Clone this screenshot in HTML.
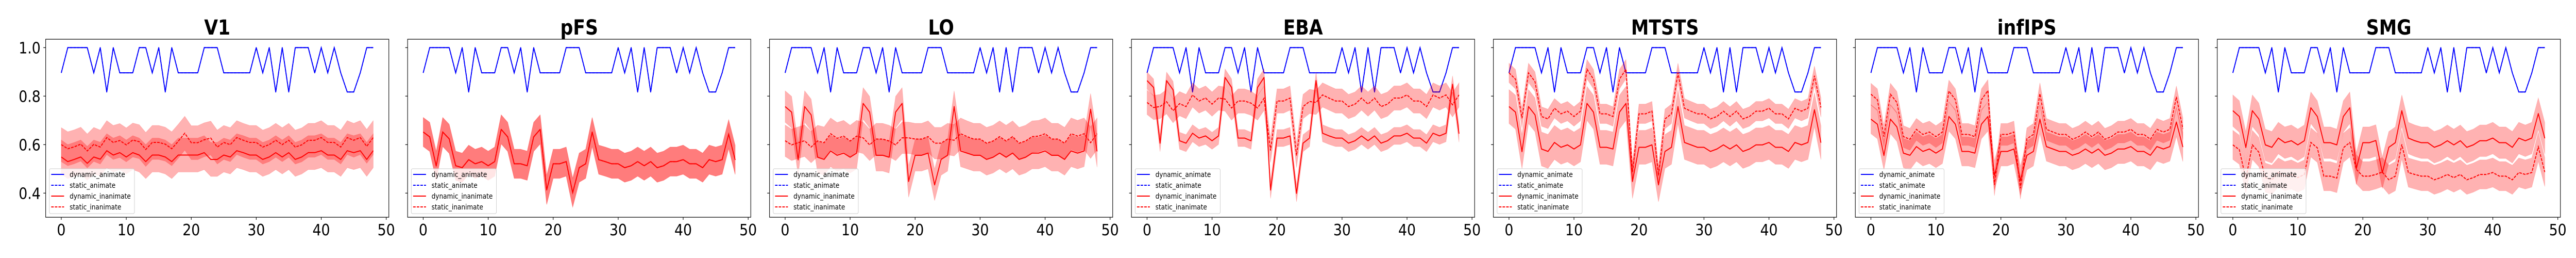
<!DOCTYPE html>
<html><head><meta charset="utf-8">
<style>
html,body{margin:0;padding:0;background:#fff;overflow:hidden;width:100%;height:100%;}
svg{display:block;position:absolute;left:0;top:0;width:100vw;height:100vh;font-family:"DejaVu Sans","Liberation Sans",sans-serif;}
</style></head>
<body>
<svg id="chart" viewBox="0 0 5600 500" preserveAspectRatio="none" xmlns="http://www.w3.org/2000/svg"><defs id="defs"></defs></svg>
<script>
const regions = ["V1","pFS","LO","EBA","MTSTS","infIPS","SMG"];
const xTicks = [0,10,20,30,40,50];
const yTicks = [0.4,0.6,0.8,1.0];
const yTickLabels = ["0.4","0.6","0.8","1.0"];
const seriesNames = ["dynamic_animate","static_animate","dynamic_inanimate","static_inanimate"];
const blueVals = [0.896,1,1,1,1,0.896,1,0.817,1,0.896,0.896,0.896,1,1,0.896,1,0.817,1,0.896,0.896,0.896,0.896,1,1,1,0.896,0.896,0.896,0.896,0.896,1,0.896,1,0.817,1,0.817,1,1,1,0.896,1,0.896,1,0.896,0.817,0.817,0.896,1,1];
const dynV1 = [0.549,0.53,0.539,0.549,0.523,0.549,0.54,0.575,0.557,0.567,0.549,0.567,0.557,0.53,0.557,0.557,0.549,0.53,0.557,0.557,0.557,0.557,0.567,0.539,0.539,0.557,0.549,0.575,0.567,0.557,0.557,0.539,0.549,0.567,0.549,0.567,0.539,0.549,0.567,0.567,0.575,0.557,0.557,0.539,0.575,0.567,0.575,0.539,0.575];
const statV1 = [0.600,0.583,0.591,0.602,0.574,0.601,0.590,0.629,0.609,0.617,0.599,0.619,0.612,0.580,0.609,0.609,0.602,0.583,0.614,0.647,0.608,0.608,0.620,0.627,0.590,0.609,0.600,0.629,0.618,0.609,0.609,0.590,0.600,0.618,0.600,0.618,0.590,0.599,0.618,0.618,0.629,0.609,0.609,0.590,0.629,0.618,0.629,0.593,0.629];
const dynPFS = [0.652,0.632,0.512,0.652,0.624,0.513,0.505,0.538,0.521,0.530,0.513,0.530,0.663,0.632,0.521,0.521,0.513,0.632,0.663,0.413,0.521,0.521,0.530,0.402,0.505,0.521,0.652,0.538,0.530,0.521,0.521,0.505,0.513,0.530,0.513,0.530,0.505,0.513,0.530,0.530,0.538,0.521,0.521,0.505,0.538,0.530,0.538,0.643,0.537];
const statPFS = [0.652,0.632,0.512,0.652,0.624,0.513,0.505,0.538,0.521,0.530,0.513,0.530,0.663,0.632,0.521,0.521,0.513,0.632,0.663,0.413,0.521,0.521,0.530,0.402,0.505,0.521,0.652,0.538,0.530,0.521,0.521,0.505,0.513,0.530,0.513,0.530,0.505,0.513,0.530,0.530,0.538,0.521,0.521,0.505,0.538,0.530,0.538,0.643,0.537];
const dynLO = [0.757,0.734,0.537,0.757,0.723,0.548,0.539,0.574,0.556,0.565,0.548,0.565,0.770,0.734,0.556,0.556,0.548,0.734,0.770,0.448,0.556,0.556,0.565,0.434,0.539,0.556,0.757,0.574,0.565,0.556,0.556,0.539,0.548,0.565,0.548,0.565,0.539,0.548,0.565,0.565,0.574,0.556,0.556,0.539,0.574,0.565,0.574,0.746,0.572];
const statLO = [0.616,0.599,0.608,0.616,0.590,0.615,0.608,0.645,0.626,0.635,0.615,0.635,0.628,0.599,0.623,0.623,0.615,0.599,0.628,0.628,0.623,0.623,0.633,0.606,0.606,0.623,0.618,0.645,0.633,0.623,0.623,0.606,0.615,0.633,0.615,0.633,0.606,0.615,0.633,0.635,0.645,0.623,0.623,0.606,0.645,0.635,0.645,0.608,0.645];
const dynEBA = [0.864,0.836,0.606,0.864,0.826,0.616,0.606,0.647,0.627,0.636,0.616,0.636,0.877,0.836,0.627,0.627,0.616,0.836,0.877,0.413,0.627,0.627,0.636,0.399,0.606,0.627,0.864,0.647,0.636,0.627,0.627,0.606,0.616,0.636,0.616,0.636,0.606,0.616,0.636,0.636,0.647,0.627,0.627,0.606,0.647,0.636,0.647,0.849,0.645];
const statEBA = [0.774,0.753,0.757,0.777,0.740,0.769,0.757,0.805,0.780,0.792,0.767,0.792,0.788,0.751,0.780,0.780,0.771,0.751,0.791,0.576,0.780,0.780,0.792,0.555,0.757,0.778,0.774,0.805,0.792,0.780,0.780,0.757,0.767,0.792,0.767,0.792,0.757,0.767,0.792,0.792,0.805,0.780,0.780,0.757,0.805,0.792,0.805,0.764,0.805];
const dynMTSTS = [0.757,0.734,0.571,0.757,0.723,0.582,0.572,0.609,0.589,0.599,0.582,0.599,0.770,0.734,0.589,0.589,0.582,0.734,0.770,0.448,0.589,0.589,0.599,0.434,0.572,0.589,0.757,0.609,0.599,0.589,0.589,0.572,0.582,0.599,0.582,0.599,0.572,0.582,0.599,0.599,0.609,0.589,0.589,0.572,0.609,0.599,0.609,0.744,0.608];
const statMTSTS = [0.896,0.870,0.709,0.896,0.860,0.716,0.706,0.750,0.727,0.738,0.716,0.738,0.911,0.870,0.727,0.727,0.716,0.870,0.911,0.487,0.727,0.727,0.738,0.473,0.706,0.727,0.896,0.750,0.738,0.727,0.727,0.706,0.716,0.738,0.716,0.738,0.706,0.716,0.738,0.738,0.750,0.727,0.727,0.706,0.750,0.738,0.750,0.884,0.753];
const dynInfIPS = [0.705,0.684,0.555,0.705,0.673,0.565,0.556,0.592,0.572,0.582,0.565,0.582,0.716,0.684,0.572,0.572,0.565,0.684,0.716,0.473,0.572,0.572,0.582,0.452,0.556,0.572,0.705,0.592,0.582,0.572,0.572,0.556,0.565,0.582,0.565,0.582,0.556,0.565,0.582,0.582,0.592,0.572,0.572,0.556,0.592,0.582,0.592,0.693,0.590];
const statInfIPS = [0.808,0.785,0.633,0.808,0.774,0.633,0.622,0.663,0.642,0.652,0.633,0.652,0.821,0.785,0.642,0.642,0.633,0.785,0.823,0.434,0.642,0.642,0.652,0.420,0.624,0.642,0.810,0.663,0.652,0.642,0.642,0.622,0.633,0.652,0.633,0.652,0.622,0.633,0.652,0.652,0.663,0.642,0.642,0.622,0.663,0.652,0.663,0.797,0.665];
const dynSMG = [0.740,0.716,0.588,0.740,0.706,0.599,0.589,0.627,0.608,0.616,0.599,0.616,0.752,0.716,0.608,0.608,0.599,0.716,0.752,0.501,0.608,0.608,0.617,0.484,0.589,0.608,0.740,0.627,0.616,0.608,0.608,0.589,0.599,0.616,0.599,0.616,0.589,0.599,0.616,0.616,0.627,0.608,0.608,0.589,0.627,0.616,0.627,0.728,0.626];
const statSMG = [0.599,0.579,0.459,0.599,0.569,0.464,0.455,0.485,0.470,0.477,0.464,0.477,0.609,0.587,0.470,0.470,0.462,0.587,0.609,0.498,0.470,0.470,0.477,0.487,0.455,0.470,0.601,0.485,0.477,0.470,0.470,0.455,0.464,0.477,0.464,0.477,0.455,0.464,0.477,0.477,0.485,0.470,0.470,0.455,0.485,0.477,0.485,0.591,0.487];
const dynBand = [0.07,0.06,0.065,0.035,0.07,0.06,0.065];
const statBand = [0.07,0.06,0.065,0.05,0.04,0.045,0.06];

const dynAll = [dynV1,dynPFS,dynLO,dynEBA,dynMTSTS,dynInfIPS,dynSMG];
const statAll = [statV1,statPFS,statLO,statEBA,statMTSTS,statInfIPS,statSMG];

const NS = "http://www.w3.org/2000/svg";
const svg = document.getElementById("chart");
const defs = document.getElementById("defs");
function mk(tag, attrs, parent){
  const e = document.createElementNS(NS, tag);
  for (const k in attrs) e.setAttribute(k, attrs[k]);
  (parent||svg).appendChild(e);
  return e;
}
const PL = 99.3, PSTEP = 786.8, PW = 746, PT = 76, PH = 345;
const XMIN = -2.4, XMAX = 50.4, YMIN = 0.3006, YMAX = 1.0347;
const SX = 0.97;

regions.forEach((name, p) => {
  const left = PL + p*PSTEP;
  const xs = v => left + (v - XMIN)/(XMAX - XMIN)*PW;
  const ys = v => PT + (YMAX - v)/(YMAX - YMIN)*PH;
  const g = mk("g", {});
  
  

  const title = mk("text", {transform:`translate(${left+PW/2},67) scale(${SX},1)`, "text-anchor":"middle", "font-size":"40", "font-weight":"bold", fill:"#000"}, g);
  title.textContent = name;
  
  

  const clipId = "clip"+p;
  const cp = mk("clipPath", {id:clipId}, defs);
  mk("rect", {x:left, y:PT, width:PW, height:PH}, cp);
  const plot = mk("g", {"clip-path":`url(#${clipId})`}, g);

  const linePath = arr => arr.map((v,i)=>(i?"L":"M")+xs(i).toFixed(2)+","+ys(v).toFixed(2)).join(" ");
  const bandPath = (arr, hw) => {
    let d = arr.map((v,i)=>(i?"L":"M")+xs(i).toFixed(2)+","+ys(v+hw).toFixed(2)).join(" ");
    for (let i=arr.length-1;i>=0;i--) d += " L"+xs(i).toFixed(2)+","+ys(arr[i]-hw).toFixed(2);
    return d+" Z";
  };

  const b1 = mk("path", {d:linePath(blueVals), fill:"none", stroke:"#0000ff", "stroke-width":"2", "stroke-linejoin":"round"}, plot);
  
  
  const b2 = mk("path", {d:linePath(blueVals), fill:"none", stroke:"#0000ff", "stroke-width":"2", "stroke-dasharray":"5.5,2.4"}, plot);
  
  

  const dyn = dynAll[p], st = statAll[p];
  const f1 = mk("path", {d:bandPath(dyn, dynBand[p]), fill:"#ff0000", "fill-opacity":"0.3", stroke:"#ff0000", "stroke-opacity":"0.15"}, plot);
  
  
  const r1 = mk("path", {d:linePath(dyn), fill:"none", stroke:"#ff0000", "stroke-width":"2", "stroke-linejoin":"round"}, plot);
  
  
  const f2 = mk("path", {d:bandPath(st, statBand[p]), fill:"#ff0000", "fill-opacity":"0.3", stroke:"#ff0000", "stroke-opacity":"0.15"}, plot);
  
  
  const r2 = mk("path", {d:linePath(st), fill:"none", stroke:"#ff0000", "stroke-width":"2", "stroke-dasharray":"5.5,2.4"}, plot);
  
  

  const fr = mk("rect", {x:left, y:PT, width:PW, height:PH, fill:"none", stroke:"#000", "stroke-width":"1.2"}, g);
  
  

  yTicks.forEach((t, k) => {
    const y = ys(t);
    const tk = mk("line", {x1:left-5, x2:left, y1:y, y2:y, stroke:"#000", "stroke-width":"1.2"}, g);
    
    
    if (p === 0) {
      const lb = mk("text", {x:left-11, y:y+11, "text-anchor":"end", "font-size":"30", fill:"#000"}, g);
      lb.textContent = yTickLabels[k];
      
      
    }
  });
  xTicks.forEach(t => {
    const x = xs(t);
    const tk = mk("line", {x1:x, x2:x, y1:PT+PH, y2:PT+PH+5, stroke:"#000", "stroke-width":"1.2"}, g);
    
    
    const lb = mk("text", {x:x, y:456, "text-anchor":"middle", "font-size":"30", fill:"#000"}, g);
    lb.textContent = String(t);
    
    
  });

  const lg = mk("g", {}, g);
  
  
  const lx = left + 8, ly = 327;
  mk("rect", {x:lx, y:ly, width:185, height:87, rx:3, fill:"#fff", "fill-opacity":"0.8", stroke:"#cccccc", "stroke-width":"1"}, lg);
  const cols = ["#0000ff","#0000ff","#ff0000","#ff0000"];
  const dash = [null,"5.5,2.4",null,"5.5,2.4"];
  seriesNames.forEach((s, k) => {
    const y = ly + 11 + k*21;
    const ent = mk("g", {}, lg);
    
    
    const la = {x1:lx+4, x2:lx+32, y1:y, y2:y, stroke:cols[k], "stroke-width":"2"};
    if (dash[k]) la["stroke-dasharray"] = dash[k];
    mk("line", la, ent);
    const tx = mk("text", {transform:`translate(${lx+44},${y+5}) scale(${SX},1)`, "font-size":"14", fill:"#000"}, ent);
    tx.textContent = s;
  });
});
</script>
</body></html>
